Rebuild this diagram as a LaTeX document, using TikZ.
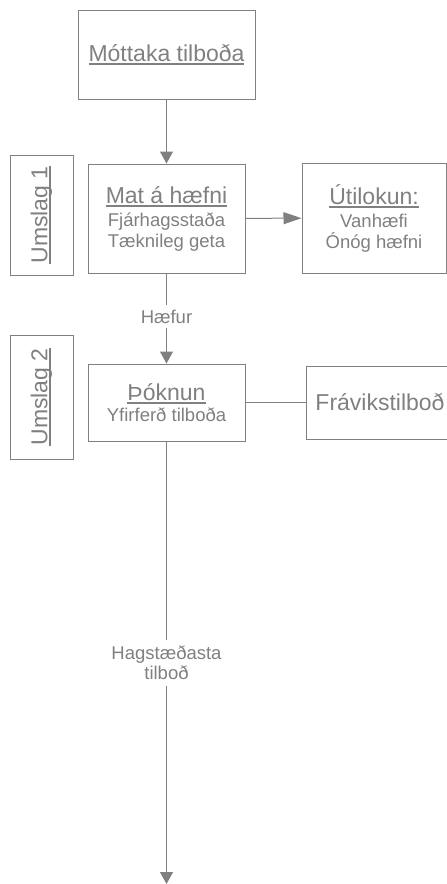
\documentclass[tikz,border=0pt]{standalone}
\usepackage{fontspec}
\setmainfont{Liberation Sans}
\usetikzlibrary{arrows.meta}

% gray of the whole chart
\definecolor{r128g128b128}{rgb}{0.5,0.5,0.5}

% font sizes
\newcommand{\bigtxt}{\fontsize{23}{26}\selectfont}
\newcommand{\smalltxt}{\fontsize{18.5}{20.5}\selectfont}
% underline at a fixed depth
\newcommand{\titul}[1]{\setbox0\hbox{#1}\rlap{\rule[-0.16em]{\wd0}{0.075em}}\box0}

\tikzset{
  box/.style={draw=r128g128b128, line width=1pt, text=r128g128b128, align=center, inner sep=0pt},
  lbl/.style={fill=white, text=r128g128b128, font=\smalltxt, align=center, inner xsep=2pt, inner ysep=5pt},
  flow/.style={draw=r128g128b128, line width=1pt},
  tip/.style={-{Triangle[length=12pt,width=13pt]}}
}

\begin{document}
\begin{tikzpicture}[x=1pt,y=-1pt]
  \useasboundingbox (0,0) rectangle (447,884);

  % Drawing box Mottaka
  \node[box, minimum width=177, minimum height=89] (mottaka) at (166.5,54.5) {\bigtxt\titul{Móttaka tilboða}};

  % Drawing envelope 1
  \node[box, rotate=90, minimum width=120, minimum height=63] (umslag1) at (41.5,215) {\bigtxt\titul{Umslag 1}};

  % Drawing box Mat
  \node[box, minimum width=157, minimum height=109, font=\smalltxt] (mat) at (166.5,218.5)
    {{\bigtxt\titul{Mat á hæfni}}\\[3pt] Fjárhagsstaða\\ Tæknileg geta};

  % Drawing box Utilokun
  \node[box, minimum width=144, minimum height=110, font=\smalltxt] (utilokun) at (374,218)
    {{\bigtxt\titul{Útilokun:}}\\[3pt] Vanhæfi\\ Ónóg hæfni};

  % Drawing envelope 2
  \node[box, rotate=90, minimum width=124, minimum height=63] (umslag2) at (41.5,397) {\bigtxt\titul{Umslag 2}};

  % Drawing box Thoknun
  \node[box, minimum width=157, minimum height=77, font=\smalltxt] (thoknun) at (166.5,402.5)
    {{\bigtxt\titul{Þóknun}}\\[1pt] Yfirferð tilboða};

  % Drawing box Fravik
  \node[box, minimum width=148, minimum height=73] (fravik) at (380,402.5) {\bigtxt Frávikstilboð};

  % End of the chart
  \coordinate (endi) at (166.5,884);

  % Drawing connectors
  \draw[flow, tip] (mottaka) -- (mat);
  \draw[flow, -{Triangle[length=18pt,width=12pt]}] (mat) -- (utilokun);
  \draw[flow, tip] (mat) -- node[lbl, pos=0.48] (haefur) {Hæfur} (thoknun);
  \draw[flow] (thoknun) -- (fravik);
  \draw[flow, tip] (thoknun) -- node[lbl, pos=0.5, inner ysep=6pt] (hagst) {Hagstæðasta\\tilboð} (endi);
\end{tikzpicture}
\end{document}
